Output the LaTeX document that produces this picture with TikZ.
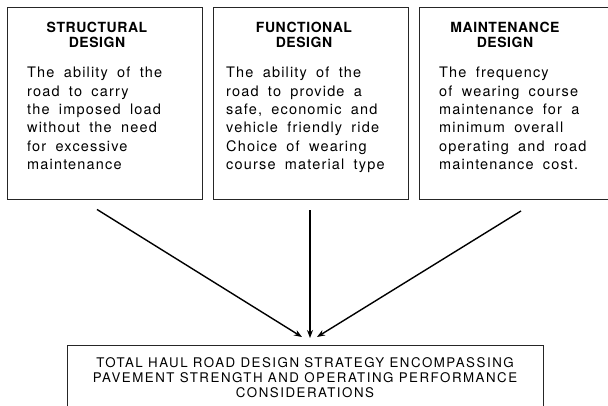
\documentclass[tikz,border=0pt]{standalone}
\usepackage{fontspec}
\setmainfont{TeX Gyre Heros}
\newfontfamily\bodyfont[LetterSpace=8,WordSpace=1.8]{TeX Gyre Heros}
\newfontfamily\headfont[LetterSpace=4]{TeX Gyre Heros}
\newfontfamily\totalfont[LetterSpace=11.5]{TeX Gyre Heros}
\usetikzlibrary{arrows.meta}

\begin{document}
\begin{tikzpicture}[x=1pt,y=-1pt]
      \tikzstyle{box}=[rectangle,draw=black!85,line width=0.9pt,inner sep=0pt,minimum width=195pt,minimum height=192pt]
      \tikzstyle{head}=[anchor=north,align=center,inner sep=0pt,font=\headfont\bfseries\fontsize{14}{15}\selectfont]
      \tikzstyle{body}=[anchor=north west,align=left,inner sep=0pt,font=\bodyfont\fontsize{14.5}{18.3}\selectfont]
      \tikzstyle{arr}=[-{Stealth[length=8pt,width=6pt]},line width=1.4pt]
      \useasboundingbox (0,0) rectangle (608,405);
      \clip (0,0) rectangle (608,405);
      % the three design boxes
      \node[box] (struct) at (104.5,103) {};
      \node[box] (func) at (310.5,103) {};
      \node[box] (maint) at (516.5,103.5) {};
      \node[head] (structhead) at (97,22) {STRUCTURAL\\DESIGN};
      \node[head] (funchead) at (304,22) {FUNCTIONAL\\DESIGN};
      \node[head] (mainthead) at (505,22) {MAINTENANCE\\DESIGN};
      \node[body] (structbody) at (27,67) {The ability of the\\road to carry\\the imposed load\\without the need\\for excessive\\maintenance};
      \node[body] (funcbody) at (226,67) {The ability of the\\road to provide a\\safe, economic and\\vehicle friendly ride\\Choice of wearing\\course material type};
      \node[body] (maintbody) at (439,67) {The frequency\\of wearing course\\maintenance for a\\minimum overall\\operating and road\\maintenance cost.};
      % the strategy box
      \node[rectangle,draw=black!85,line width=0.9pt,anchor=north,minimum width=476pt,inner xsep=0pt,inner ysep=12pt,align=center,font=\totalfont\fontsize{13.3}{15}\selectfont] (total) at (305,345)
        {TOTAL HAUL ROAD DESIGN STRATEGY ENCOMPASSING\\PAVEMENT STRENGTH AND OPERATING PERFORMANCE\\CONSIDERATIONS};
      \draw[arr] ([xshift=-7.5pt,yshift=-10pt]struct.south) -- ([xshift=-3pt,yshift=8pt]total.north);
      \draw[arr] ([xshift=-0.5pt,yshift=-11pt]func.south) -- ([xshift=5pt,yshift=7pt]total.north);
      \draw[arr] ([xshift=4.5pt,yshift=-11pt]maint.south) -- ([xshift=12pt,yshift=8pt]total.north);
\end{tikzpicture}
\end{document}
